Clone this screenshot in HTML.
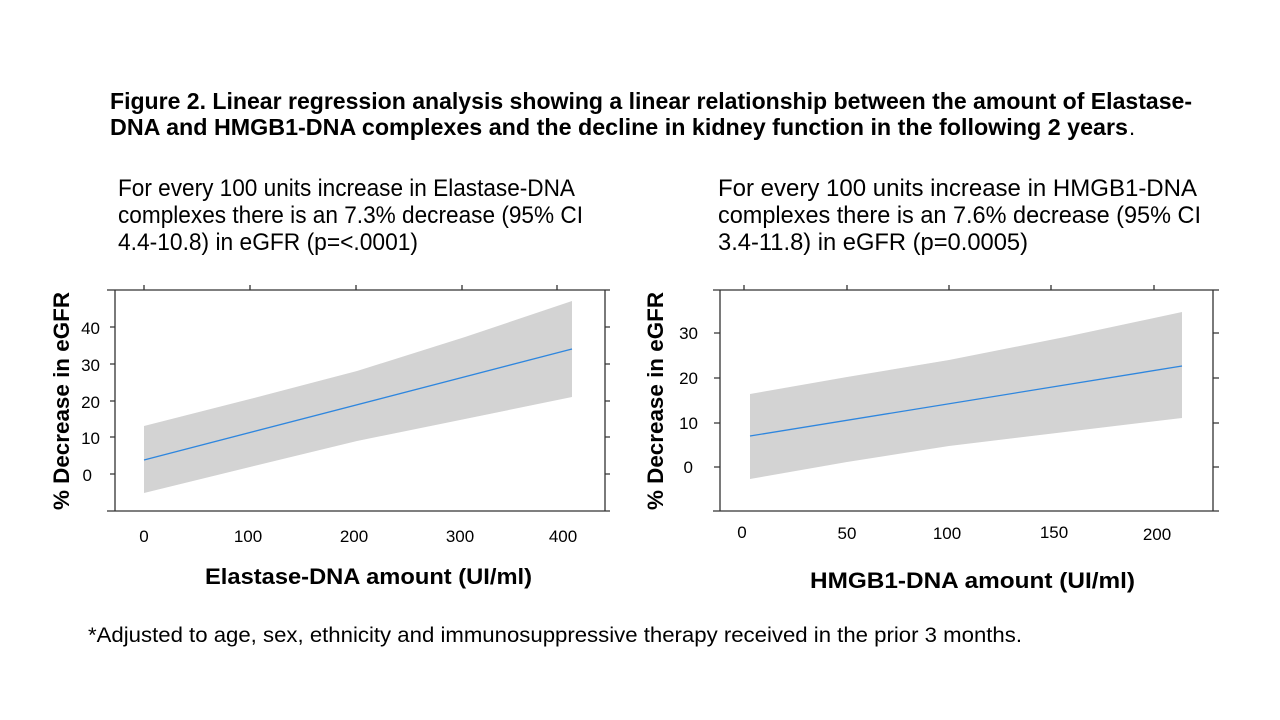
<!DOCTYPE html>
<html><head><meta charset="utf-8"><style>html,body{margin:0;padding:0;background:#fff}svg{display:block}</style></head>
<body>
<svg width="1280" height="720" viewBox="0 0 1280 720" xmlns="http://www.w3.org/2000/svg" font-family="'Liberation Sans', sans-serif">
<rect width="1280" height="720" fill="#fff"/>
<g font-weight="bold" font-size="23" fill="#000">
<text x="110" y="109" textLength="1082" lengthAdjust="spacingAndGlyphs">Figure 2. Linear regression analysis showing a linear relationship between the amount of Elastase-</text>
<text x="110" y="135" textLength="1018" lengthAdjust="spacingAndGlyphs">DNA and HMGB1-DNA complexes and the decline in kidney function in the following 2 years</text>
</g>
<text x="1129" y="135" font-size="22">.</text>
<g font-size="24" fill="#000">
<text x="118" y="196" textLength="457" lengthAdjust="spacingAndGlyphs">For every 100 units increase in Elastase-DNA</text>
<text x="118" y="223" textLength="465" lengthAdjust="spacingAndGlyphs">complexes there is an 7.3% decrease (95% CI</text>
<text x="118" y="250" textLength="300" lengthAdjust="spacingAndGlyphs">4.4-10.8) in eGFR (p=&lt;.0001)</text>
<text x="718" y="196" textLength="479" lengthAdjust="spacingAndGlyphs">For every 100 units increase in HMGB1-DNA</text>
<text x="718" y="223" textLength="483" lengthAdjust="spacingAndGlyphs">complexes there is an 7.6% decrease (95% CI</text>
<text x="718" y="250" textLength="310" lengthAdjust="spacingAndGlyphs">3.4-11.8) in eGFR (p=0.0005)</text>
<text x="88" y="642" font-size="21" textLength="934" lengthAdjust="spacingAndGlyphs">*Adjusted to age, sex, ethnicity and immunosuppressive therapy received in the prior 3 months.</text>
</g>

<!-- Left chart -->
<polygon points="144,426 250,399 357,371 465,337 572,301 572,397 465,419 357,441 250,467 144,493" fill="#d3d3d3"/>
<line x1="144" y1="460" x2="572" y2="349" stroke="#2e86de" stroke-width="1.3"/>
<g stroke="#333" stroke-width="1.3" fill="none">
<line x1="107" y1="290" x2="610" y2="290"/>
<line x1="107" y1="511" x2="610" y2="511"/>
<line x1="115" y1="290" x2="115" y2="511"/>
<line x1="605" y1="290" x2="605" y2="511"/>
<path d="M144,285V290M250,285V290M356,285V290M462,285V290M557,285V290"/>
<path d="M110,327H115M110,364H115M110,401H115M110,437H115M110,474H115"/>
<path d="M605,327H610M605,364H610M605,401H610M605,437H610M605,474H610"/>
</g>
<g font-size="17" fill="#000" text-anchor="middle">
<text x="144" y="542">0</text><text x="248" y="542">100</text><text x="354" y="542">200</text><text x="460" y="542">300</text><text x="563" y="542">400</text>
</g>
<g font-size="17" fill="#000" text-anchor="end">
<text x="100" y="334">40</text><text x="100" y="371">30</text><text x="100" y="408">20</text><text x="100" y="444">10</text><text x="92" y="481">0</text>
</g>
<text x="205" y="584" font-size="22" font-weight="bold" textLength="327" lengthAdjust="spacingAndGlyphs">Elastase-DNA amount (UI/ml)</text>
<text transform="translate(69,510) rotate(-90)" font-size="22" font-weight="bold" textLength="218" lengthAdjust="spacingAndGlyphs">% Decrease in eGFR</text>

<!-- Right chart -->
<polygon points="750,394 847,377 949,360 1065,337 1182,312 1182,418 1065,432 949,446 847,462 750,479" fill="#d3d3d3"/>
<line x1="750" y1="436" x2="1182" y2="366" stroke="#2e86de" stroke-width="1.3"/>
<g stroke="#333" stroke-width="1.3" fill="none">
<line x1="713" y1="290" x2="1219" y2="290"/>
<line x1="713" y1="511" x2="1219" y2="511"/>
<line x1="720" y1="290" x2="720" y2="511"/>
<line x1="1213" y1="290" x2="1213" y2="511"/>
<path d="M744,285V290M847,285V290M949,285V290M1051,285V290M1154,285V290"/>
<path d="M714,333H720M714,378H720M714,423H720M714,467H720"/>
<path d="M1213,333H1219M1213,378H1219M1213,423H1219M1213,467H1219"/>
</g>
<g font-size="17" fill="#000" text-anchor="middle">
<text x="742" y="538">0</text><text x="847" y="539">50</text><text x="947" y="539">100</text><text x="1054" y="538">150</text><text x="1157" y="540">200</text>
</g>
<g font-size="17" fill="#000" text-anchor="end">
<text x="698" y="339">30</text><text x="698" y="384">20</text><text x="698" y="429">10</text><text x="693" y="473">0</text>
</g>
<text x="810" y="588" font-size="22" font-weight="bold" textLength="325" lengthAdjust="spacingAndGlyphs">HMGB1-DNA amount (UI/ml)</text>
<text transform="translate(663,510) rotate(-90)" font-size="22" font-weight="bold" textLength="218" lengthAdjust="spacingAndGlyphs">% Decrease in eGFR</text>
</svg>
</body></html>
